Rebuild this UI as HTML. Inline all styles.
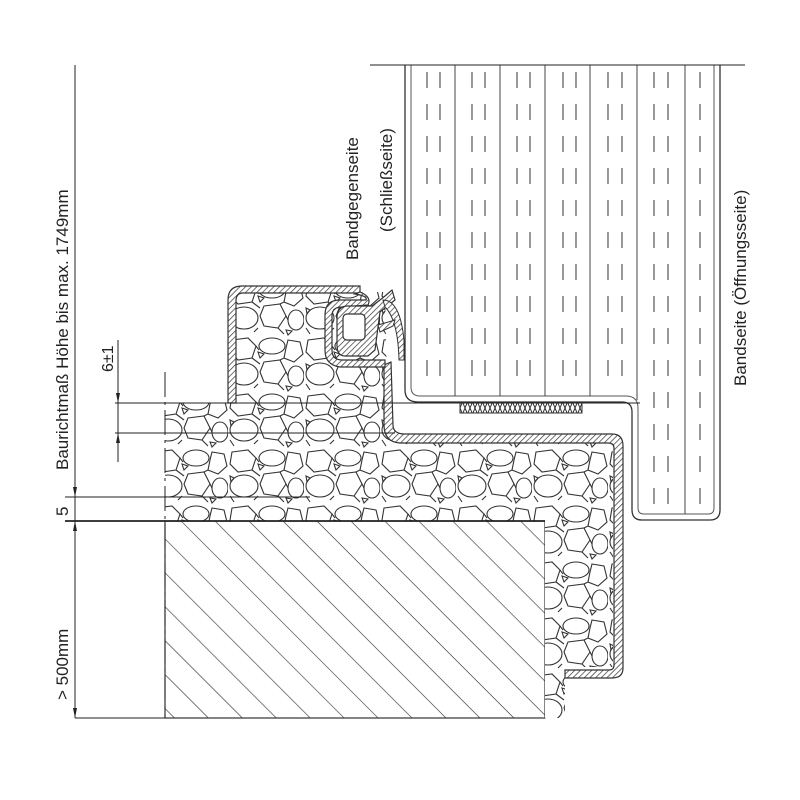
<!DOCTYPE html>
<html><head><meta charset="utf-8"><style>
body{margin:0;background:#fff}
svg{display:block}
text{font-family:"Liberation Sans",sans-serif;fill:#222}
</style></head><body>
<svg width="800" height="800" viewBox="0 0 800 800" xmlns="http://www.w3.org/2000/svg">
<defs>
<pattern id="hatch" width="4" height="4" patternUnits="userSpaceOnUse" patternTransform="rotate(45)">
<rect width="4" height="4" fill="#fff"/><line x1="0" y1="0" x2="0" y2="4" stroke="#333" stroke-width="1.4"/></pattern>
<pattern id="conc" width="24" height="24" patternUnits="userSpaceOnUse" patternTransform="rotate(45)">
<rect width="24" height="24" fill="#fff"/><line x1="0" y1="0" x2="24" y2="0" stroke="#333" stroke-width="1.2"/></pattern>
<pattern id="cross" width="10" height="12" patternUnits="userSpaceOnUse">
<rect width="10" height="12" fill="#fff"/><path d="M0 0L5 12L10 0M0 12L5 0L10 12" stroke="#333" fill="none" stroke-width="1"/></pattern>
<pattern id="foam" width="76" height="56" patternUnits="userSpaceOnUse">
<rect width="76" height="56" fill="#fff"/>
<g fill="none" stroke="#333" stroke-width="1.1">
<polygon points="4,4 20,2 28,10 24,22 10,24 2,16"/>
<ellipse cx="44" cy="10" rx="13" ry="8"/>
<polygon points="60,4 72,6 75,18 66,26 56,22 58,12"/>
<ellipse cx="16" cy="38" rx="14" ry="11"/>
<polygon points="36,26 52,24 58,36 50,48 36,46 32,36"/>
<ellipse cx="68" cy="40" rx="8" ry="10"/>
<polygon points="30,16 36,18 32,22"/>
<polygon points="2,28 6,30 3,34"/>
<polygon points="58,50 64,51 60,55"/>
<path d="M28 10L31 14M24 22L32 28M56 22L52 24M58 36L60 40M30 48L26 52M50 48L56 54M2 48L6 54"/>
</g></pattern>
</defs>

<!-- concrete -->
<rect x="165" y="521" width="380" height="197" fill="url(#conc)" stroke="#333" stroke-width="1.2"/>
<!-- foam areas -->
<path d="M165 403 L233 403 L233 292 L385 292 L388 430 L400 440 L613 443 L613 667 L565 667 L565 718 L545 718 L545 521 L165 521 Z" fill="url(#foam)" stroke="none"/>
<!-- frame profile -->
<path d="M228 403 L228 300 Q228 286 242 286 L360 286 L360 293 L243 293 Q236 293 236 301 L236 403 Z" fill="url(#hatch)" stroke="#333" stroke-width="1.2"/>
<path d="M384 365 L391 362 L393 425 Q393 434 405 434 L612 434 Q623 434 623 446 L623 668 Q623 678 612 678 L565 678 L565 670 L609 670 Q614 670 614 665 L614 448 Q614 443 608 443 L400 443 Q384 442 384 425 Z" fill="url(#hatch)" stroke="#333" stroke-width="1.2"/>
<!-- seal holder -->
<path d="M355 294 Q368 296 366 300 L340 300 Q325 300 325 315 L325 350 Q325 365 340 367 L385 367 L385 360 L342 360 Q332 360 332 350 L332 316 Q332 307 342 307 L368 305 Q372 297 360 292 Z" fill="url(#hatch)" stroke="#333" stroke-width="1.2"/>
<path d="M337 318 Q337 306 348 306 L372 306 L380 300 L385 296 L392 290 L395 300 L380 312 L375 350 L368 356 L345 356 Q337 356 337 345 Z" fill="url(#hatch)" stroke="#333" stroke-width="1.2"/>
<rect x="343" y="314" width="22" height="26" rx="4" fill="#fff" stroke="#333" stroke-width="1.2"/>
<path d="M383 300 Q400 300 404 340 L404 360 L399 360 Q398 320 385 307 Z" fill="url(#hatch)" stroke="#333"/>
<path d="M378 325 L395 320 L393 326 L380 332 Z" fill="url(#hatch)" stroke="#333"/>

<!-- door leaf -->
<path d="M405 65 L405 390 Q405 402 418 402 L622 402 Q632 402 632 412 L632 510 Q632 520 642 520 L710 520 Q720 520 720 510 L720 65" fill="none" stroke="#333" stroke-width="1.3"/>
<path d="M411 65 L411 387 Q411 396 420 396 L626 396 Q638 396 638 408 L638 508 Q638 514 644 514 L708 514 Q714 514 714 508 L714 65" fill="none" stroke="#555" stroke-width="1"/>
<g stroke="#444" stroke-width="1">
<line x1="455" y1="65" x2="455" y2="396"/><line x1="500" y1="65" x2="500" y2="396"/>
<line x1="545" y1="65" x2="545" y2="396"/><line x1="590" y1="65" x2="590" y2="396"/>
<line x1="637" y1="65" x2="637" y2="400"/><line x1="685" y1="65" x2="685" y2="514"/>
</g>
<g stroke="#555" stroke-width="1.2" stroke-dasharray="16,16">
<line x1="427" y1="72" x2="427" y2="392"/><line x1="440" y1="72" x2="440" y2="392"/>
<line x1="472" y1="72" x2="472" y2="392"/><line x1="485" y1="72" x2="485" y2="392"/>
<line x1="517" y1="72" x2="517" y2="392"/><line x1="530" y1="72" x2="530" y2="392"/>
<line x1="563" y1="72" x2="563" y2="392"/><line x1="576" y1="72" x2="576" y2="392"/>
<line x1="608" y1="72" x2="608" y2="392"/><line x1="622" y1="72" x2="622" y2="392"/>
<line x1="654" y1="72" x2="654" y2="505"/><line x1="668" y1="72" x2="668" y2="505"/>
<line x1="700" y1="72" x2="700" y2="505"/>
</g>
<rect x="460" y="403" width="122" height="10" fill="url(#cross)" stroke="#333"/>

<!-- dimension lines -->
<g stroke="#222" stroke-width="1">
<line x1="370" y1="65" x2="745" y2="65"/>
<line x1="75" y1="65" x2="75" y2="718"/>
<line x1="75" y1="718" x2="165" y2="718"/>
<line x1="115" y1="403" x2="640" y2="403"/>
<line x1="115" y1="433" x2="395" y2="433"/>
<line x1="65" y1="497" x2="310" y2="497"/>
<line x1="65" y1="521" x2="545" y2="521" stroke-width="1.8"/>
<line x1="118" y1="340" x2="118" y2="462"/>
<line x1="165" y1="372" x2="165" y2="718" stroke-dasharray="25,5,3,5"/>
</g>
<g fill="#222">
<path d="M118 403 l-2 -10 h4z"/><path d="M118 433 l-2 10 h4z"/>
<path d="M75 497 l-2 -10 h4z"/><path d="M75 521 l-2 10 h4z"/>
<path d="M75 718 l-2 -10 h4z"/>
</g>

<!-- text -->
<text transform="translate(68,470) rotate(-90)" font-size="17">Baurichtmaß Höhe bis max. 1749mm</text>
<text transform="translate(68,516) rotate(-90)" font-size="17">5</text>
<text transform="translate(68,700) rotate(-90)" font-size="17">&gt; 500mm</text>
<text transform="translate(113,372) rotate(-90)" font-size="16">6±1</text>
<text transform="translate(358,260) rotate(-90)" font-size="17">Bandgegenseite</text>
<text transform="translate(392,232) rotate(-90)" font-size="17">(Schließseite)</text>
<text transform="translate(746,386) rotate(-90)" font-size="17">Bandseite (Öffnungsseite)</text>
</svg>
</body></html>
